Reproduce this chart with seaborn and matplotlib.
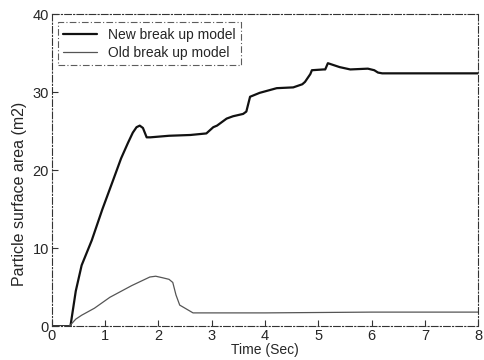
import numpy as np
import pandas as pd
import matplotlib
matplotlib.use("Agg")
import matplotlib.pyplot as plt
import seaborn as sns

t_new = [0.0, 0.35, 0.45, 0.56, 0.75, 0.95, 1.15, 1.3, 1.43, 1.52, 1.59, 1.65, 1.71, 1.78, 1.85, 2.2, 2.6, 2.9, 3.03, 3.1, 3.28, 3.4, 3.59, 3.65, 3.72, 3.9, 4.22, 4.53, 4.7, 4.75, 4.85, 4.88, 5.1, 5.13, 5.18, 5.4, 5.6, 5.93, 6.05, 6.12, 6.2, 7.0, 8.0]
v_new = [0.0, 0.0, 4.5, 7.8, 11.0, 15.0, 18.7, 21.5, 23.5, 24.8, 25.5, 25.7, 25.4, 24.2, 24.2, 24.4, 24.5, 24.7, 25.5, 25.7, 26.6, 26.9, 27.2, 27.5, 29.4, 29.9, 30.5, 30.6, 31.0, 31.3, 32.3, 32.8, 32.9, 32.9, 33.7, 33.2, 32.9, 33.0, 32.8, 32.5, 32.4, 32.4, 32.4]

t_old = [0.0, 0.33, 0.45, 0.56, 0.8, 1.09, 1.5, 1.84, 1.95, 2.08, 2.2, 2.27, 2.33, 2.4, 2.5, 2.65, 4.0, 6.0, 8.0]
v_old = [0.0, 0.0, 0.9, 1.4, 2.3, 3.7, 5.2, 6.3, 6.4, 6.2, 6.0, 5.6, 4.0, 2.7, 2.3, 1.7, 1.7, 1.8, 1.8]

labels = ["New break up model", "Old break up model"]

df = pd.concat([
    pd.DataFrame({"t": t_new, "v": v_new, "model": labels[0]}),
    pd.DataFrame({"t": t_old, "v": v_old, "model": labels[1]}),
])

sns.set_style("white")
plt.rcParams["font.family"] = ["Liberation Sans", "DejaVu Sans"]

fig = plt.figure(figsize=(4.84, 3.6), dpi=100)
ax = fig.add_axes([0.107, 0.094, 0.881, 0.867])

sns.lineplot(data=df, x="t", y="v", hue="model", size="model",
             palette={labels[0]: "#111111", labels[1]: "#555555"},
             sizes={labels[0]: 1.6, labels[1]: 0.9},
             ax=ax, legend=True, estimator=None, sort=False)

ax.set_xlim(0, 8)
ax.set_ylim(0, 40)
ax.set_xticks(range(0, 9))
ax.set_yticks([0, 10, 20, 30, 40])
ax.tick_params(direction="in", length=4, width=0.8, labelsize=10.5, pad=2,
               left=True, bottom=True, color="#333333")
for s in ax.spines.values():
    s.set_visible(True)
    s.set_linestyle((0, (6, 2, 1, 2)))
    s.set_linewidth(0.8)
    s.set_color("#333333")
ax.set_xlabel("Time (Sec)", fontsize=10, labelpad=0)
ax.set_ylabel("Particle surface area (m2)", fontsize=11.5)
ax.yaxis.set_label_coords(-0.058, 0.423)

handles, lbls = ax.get_legend_handles_labels()
leg = ax.legend(handles=handles, labels=lbls, loc="upper left",
                bbox_to_anchor=(0.014, 0.974), borderaxespad=0,
                fontsize=10, frameon=True,
                fancybox=False, borderpad=0.4, handlelength=2.4,
                handletextpad=0.8, labelspacing=0.3)
leg.get_frame().set_edgecolor("#333333")
leg.get_frame().set_linestyle((0, (6, 2, 1, 2)))
leg.get_frame().set_linewidth(0.8)

fig.savefig("out.png", dpi=100)
